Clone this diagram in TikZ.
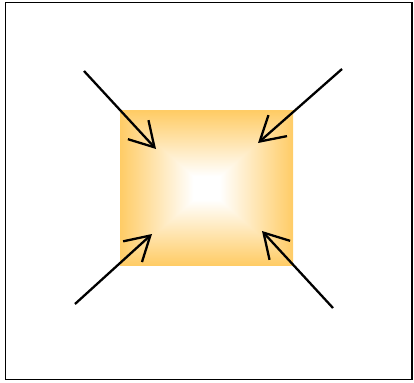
\documentclass[tikz,border=0pt]{standalone}
\usetikzlibrary{arrows.meta}
\pgfdeclarefunctionalshading{boxshade}{\pgfpoint{-50bp}{-50bp}}{\pgfpoint{50bp}{50bp}}{}{
  abs exch abs 2 copy lt {exch} if pop
  25 div 0.15 sub 0.85 div
  dup 0 lt {pop 0} if
  dup 1 gt {pop 1} if
  1 exch
  dup 0.2 mul 1 exch sub
  exch 0.6 mul 1 exch sub
}
\tikzset{
  frame/.style={draw=black, line width=1.3pt},
  glow/.style={shading=boxshade, minimum width=173pt, minimum height=154pt, inner sep=0pt, outer sep=0pt},
  inarrow/.style={draw=black, line width=2.3pt, -{Straight Barb[length=24pt,width=28pt]}},
}
\begin{document}
\begin{tikzpicture}[x=1pt,y=-1pt]
\useasboundingbox (0,0) rectangle (414,382);
\node[frame, minimum width=406.5pt, minimum height=377.5pt, inner sep=0pt] (box) at (208.75,191) {};
\node[glow] (sq) at (206.5,188) {};
\coordinate (s1) at (84,71);   \coordinate (e1) at (156,149);
\coordinate (s2) at (342,69);  \coordinate (e2) at (258,143);
\coordinate (s3) at (75,304);  \coordinate (e3) at (152,234);
\coordinate (s4) at (333,308); \coordinate (e4) at (262,231);
\draw[inarrow] (s1) -- (e1);
\draw[inarrow] (s2) -- (e2);
\draw[inarrow] (s3) -- (e3);
\draw[inarrow] (s4) -- (e4);
\end{tikzpicture}
\end{document}
